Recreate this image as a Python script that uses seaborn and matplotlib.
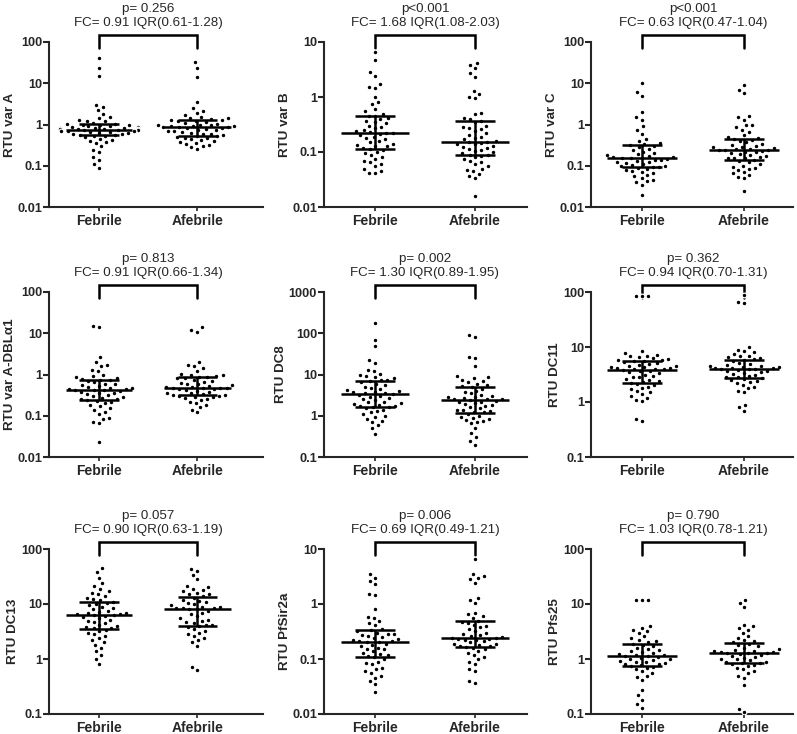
import numpy as np
import pandas as pd
import seaborn as sns
import matplotlib
matplotlib.use('Agg')
from matplotlib import pyplot as plt
from matplotlib import transforms

groups = ['Febrile', 'Afebrile']

# values (RTU, log scale)
feb_varA = [42, 23, 15, 3.0, 2.7, 2.2, 1.8, 1.5, 1.4, 1.3, 1.25, 1.2, 1.1, 1.05, 1.05, 1.0, 1.0, 0.95,
            0.92, 0.9, 0.88, 0.85, 0.82, 0.8, 0.8, 0.78, 0.78, 0.77, 0.76, 0.75, 0.74, 0.72, 0.7, 0.7,
            0.68, 0.66, 0.65, 0.63, 0.62, 0.6, 0.58, 0.56, 0.55, 0.54, 0.52, 0.5, 0.45, 0.42, 0.4,
            0.38, 0.35, 0.3, 0.24, 0.22, 0.16, 0.14, 0.11, 0.09]
afe_varA = [33, 24, 14, 3.5, 2.5, 2.1, 1.9, 1.7, 1.5, 1.45, 1.4, 1.35, 1.3, 1.28, 1.25, 1.2, 1.15, 1.1,
            1.05, 1.0, 0.98, 0.95, 0.92, 0.9, 0.9, 0.88, 0.87, 0.85, 0.82, 0.8, 0.78, 0.75, 0.72, 0.7,
            0.68, 0.65, 0.62, 0.6, 0.58, 0.55, 0.53, 0.52, 0.5, 0.48, 0.46, 0.44, 0.42, 0.4, 0.38,
            0.36, 0.34, 0.32, 0.3, 0.28, 0.26]

feb_varB = [6.5, 4.8, 2.8, 2.4, 1.7, 1.5, 1.45, 1.0, 0.8, 0.75, 0.6, 0.55, 0.5, 0.46, 0.45, 0.42, 0.4,
            0.37, 0.35, 0.33, 0.3, 0.28, 0.27, 0.25, 0.24, 0.23, 0.22, 0.22, 0.21, 0.2, 0.19, 0.18,
            0.17, 0.16, 0.15, 0.14, 0.135, 0.13, 0.13, 0.12, 0.115, 0.11, 0.1, 0.095, 0.09, 0.08,
            0.075, 0.07, 0.065, 0.06, 0.055, 0.05, 0.045, 0.042, 0.042]
afe_varB = [4.2, 3.8, 3.3, 2.7, 2.3, 1.3, 1.15, 1.0, 0.95, 0.52, 0.5, 0.42, 0.4, 0.37, 0.35, 0.3, 0.28,
            0.27, 0.26, 0.24, 0.22, 0.2, 0.19, 0.18, 0.17, 0.16, 0.155, 0.15, 0.145, 0.14, 0.14, 0.13,
            0.125, 0.12, 0.115, 0.11, 0.105, 0.1, 0.095, 0.09, 0.09, 0.085, 0.08, 0.075, 0.07, 0.065,
            0.06, 0.055, 0.05, 0.048, 0.045, 0.04, 0.037, 0.033, 0.016]

feb_varC = [10, 6.2, 5.0, 2.0, 1.5, 1.3, 0.9, 0.75, 0.6, 0.45, 0.4, 0.35, 0.33, 0.32, 0.3, 0.28, 0.26,
            0.24, 0.22, 0.2, 0.19, 0.18, 0.17, 0.165, 0.16, 0.155, 0.15, 0.15, 0.145, 0.14, 0.135, 0.13,
            0.125, 0.12, 0.115, 0.11, 0.105, 0.1, 0.097, 0.095, 0.093, 0.09, 0.085, 0.08, 0.075, 0.07,
            0.065, 0.06, 0.055, 0.05, 0.045, 0.042, 0.04, 0.035, 0.02]
afe_varC = [9.0, 7.0, 5.8, 1.6, 1.5, 1.3, 1.0, 0.95, 0.85, 0.75, 0.65, 0.55, 0.5, 0.46, 0.45, 0.42, 0.4,
            0.37, 0.34, 0.32, 0.3, 0.29, 0.28, 0.27, 0.26, 0.25, 0.24, 0.24, 0.235, 0.23, 0.22, 0.21,
            0.2, 0.19, 0.18, 0.17, 0.16, 0.155, 0.15, 0.15, 0.14, 0.13, 0.12, 0.11, 0.1, 0.095, 0.09,
            0.085, 0.08, 0.07, 0.065, 0.06, 0.052, 0.05, 0.025]

feb_dbl = [15, 14, 2.6, 2.0, 1.7, 1.6, 1.3, 1.2, 1.0, 0.9, 0.85, 0.8, 0.78, 0.75, 0.72, 0.7, 0.65, 0.6,
           0.58, 0.55, 0.52, 0.5, 0.48, 0.46, 0.45, 0.44, 0.43, 0.42, 0.41, 0.4, 0.38, 0.36, 0.35, 0.34,
           0.32, 0.3, 0.28, 0.27, 0.26, 0.25, 0.24, 0.23, 0.21, 0.2, 0.18, 0.17, 0.15, 0.14, 0.12, 0.11,
           0.09, 0.085, 0.07, 0.065, 0.023]
afe_dbl = [14, 12, 11, 2.0, 1.7, 1.6, 1.4, 1.2, 1.05, 1.0, 0.95, 0.9, 0.87, 0.85, 0.82, 0.8, 0.75, 0.7,
           0.65, 0.62, 0.6, 0.58, 0.55, 0.53, 0.5, 0.49, 0.48, 0.47, 0.47, 0.46, 0.45, 0.44, 0.42, 0.4,
           0.38, 0.36, 0.35, 0.33, 0.32, 0.31, 0.3, 0.3, 0.29, 0.28, 0.27, 0.26, 0.24, 0.22, 0.2, 0.18,
           0.16, 0.14, 0.12]

feb_dc8 = [180, 70, 50, 22, 19, 13, 12, 10.5, 9.5, 9, 8.5, 8, 7.5, 7.2, 7, 6.5, 6, 5.5, 5, 4.8, 4.5,
           4.2, 4, 3.8, 3.7, 3.6, 3.5, 3.4, 3.2, 3, 2.9, 2.7, 2.5, 2.4, 2.2, 2.1, 2, 1.9, 1.8, 1.75,
           1.7, 1.65, 1.6, 1.5, 1.4, 1.3, 1.2, 1.1, 1.0, 0.95, 0.85, 0.75, 0.7, 0.6, 0.5, 0.37]
afe_dc8 = [90, 80, 27, 25, 16, 9, 8.5, 8, 7.5, 7, 6.5, 6, 5.5, 5.2, 5, 4.5, 4, 3.8, 3.5, 3.2, 3, 2.9,
           2.8, 2.7, 2.6, 2.5, 2.5, 2.4, 2.3, 2.2, 2.1, 2, 1.9, 1.8, 1.7, 1.6, 1.5, 1.4, 1.35, 1.3,
           1.25, 1.2, 1.1, 1.0, 0.95, 0.9, 0.85, 0.8, 0.75, 0.7, 0.65, 0.5, 0.38, 0.3, 0.25, 0.2]

feb_dc11 = [86, 85, 84, 8.5, 7.8, 7.3, 7, 6.8, 6.5, 6.2, 6, 5.9, 5.8, 5.6, 5.5, 5.3, 5.1, 5, 4.8, 4.6,
            4.5, 4.4, 4.3, 4.2, 4.1, 4.0, 4.0, 3.9, 3.8, 3.7, 3.6, 3.5, 3.3, 3.1, 3.0, 2.9, 2.8, 2.6,
            2.5, 2.4, 2.3, 2.2, 2.1, 2.0, 1.9, 1.8, 1.7, 1.6, 1.5, 1.4, 1.3, 1.2, 1.1, 1.05, 0.5, 0.45]
afe_dc11 = [90, 66, 62, 10, 9, 8.5, 8, 7.5, 7, 6.8, 6.5, 6.3, 6, 5.8, 5.5, 5.2, 5, 4.8, 4.6, 4.5, 4.4,
            4.3, 4.2, 4.1, 4.1, 4.0, 4.0, 3.9, 3.8, 3.7, 3.6, 3.5, 3.4, 3.2, 3.1, 3.0, 2.9, 2.8, 2.7,
            2.6, 2.5, 2.4, 2.3, 2.2, 2.0, 1.9, 1.8, 1.6, 1.5, 0.9, 0.8, 0.68]

feb_dc13 = [45, 38, 30, 24, 21, 19, 17, 16, 15, 14, 13, 12.5, 12, 11, 10.5, 10, 9.5, 9, 8.5, 8, 7.5,
            7.2, 7, 6.8, 6.6, 6.5, 6.4, 6.2, 6, 5.8, 5.5, 5.2, 5, 4.8, 4.5, 4.2, 4, 3.8, 3.7, 3.6,
            3.4, 3.2, 3, 2.8, 2.6, 2.4, 2.2, 2.0, 1.8, 1.6, 1.4, 1.2, 1.0, 0.8]
afe_dc13 = [44, 40, 33, 28, 21, 20, 19, 18, 17, 16, 15.5, 15, 14, 13, 12, 11.5, 11, 10.5, 10, 9.5, 9,
            8.8, 8.6, 8.5, 8.4, 8.2, 8, 7.5, 7, 6.5, 6, 5.5, 5.2, 5, 4.8, 4.5, 4.2, 4.1, 4.0, 3.8,
            3.5, 3.2, 3.0, 2.8, 2.6, 2.4, 2.2, 2.0, 1.7, 0.72, 0.62]

feb_sir2a = [3.5, 3.0, 2.6, 2.3, 1.5, 1.45, 0.8, 0.58, 0.55, 0.5, 0.45, 0.42, 0.35, 0.33, 0.32, 0.3,
             0.29, 0.28, 0.27, 0.26, 0.25, 0.24, 0.23, 0.22, 0.215, 0.21, 0.205, 0.2, 0.19, 0.18, 0.17,
             0.16, 0.155, 0.15, 0.14, 0.13, 0.125, 0.12, 0.115, 0.11, 0.1, 0.09, 0.085, 0.08, 0.07,
             0.065, 0.06, 0.055, 0.05, 0.045, 0.04, 0.035, 0.025]
afe_sir2a = [6.5, 3.5, 3.2, 3.0, 2.8, 2.4, 1.3, 1.2, 1.05, 0.7, 0.65, 0.6, 0.55, 0.5, 0.48, 0.45, 0.42,
             0.4, 0.38, 0.35, 0.32, 0.3, 0.28, 0.27, 0.26, 0.25, 0.245, 0.24, 0.235, 0.23, 0.225,
             0.22, 0.21, 0.2, 0.19, 0.185, 0.18, 0.175, 0.17, 0.165, 0.16, 0.15, 0.14, 0.13, 0.12,
             0.11, 0.1, 0.09, 0.08, 0.065, 0.06, 0.04, 0.037]

feb_pfs25 = [12, 12, 12, 4.0, 3.7, 3.4, 3.2, 3.0, 2.6, 2.4, 2.2, 2.1, 2.0, 1.9, 1.8, 1.7, 1.6, 1.5,
             1.45, 1.4, 1.35, 1.3, 1.25, 1.2, 1.18, 1.15, 1.12, 1.1, 1.05, 1.0, 0.98, 0.95, 0.92, 0.9,
             0.88, 0.85, 0.82, 0.8, 0.78, 0.75, 0.72, 0.7, 0.65, 0.6, 0.55, 0.5, 0.48, 0.42, 0.27,
             0.22, 0.18, 0.15, 0.13]
afe_pfs25 = [12, 10.5, 8.8, 4.2, 4.0, 3.6, 3.4, 3.0, 2.6, 2.4, 2.2, 2.1, 2.0, 1.9, 1.8, 1.7, 1.6, 1.5,
             1.45, 1.4, 1.38, 1.35, 1.32, 1.3, 1.3, 1.28, 1.25, 1.2, 1.15, 1.1, 1.05, 1.0, 0.98, 0.95,
             0.9, 0.88, 0.85, 0.83, 0.8, 0.78, 0.75, 0.7, 0.65, 0.6, 0.55, 0.5, 0.45, 0.33, 0.125, 0.11]

ylabels = ['RTU var A', 'RTU var B', 'RTU var C',
           'RTU var A-DBL\u03b11', 'RTU DC8', 'RTU DC11',
           'RTU DC13', 'RTU PfSir2a', 'RTU Pfs25']
p_texts = ['p= 0.256', 'p<0.001', 'p<0.001',
           'p= 0.813', 'p= 0.002', 'p= 0.362',
           'p= 0.057', 'p= 0.006', 'p= 0.790']
fc_texts = ['FC= 0.91 IQR(0.61-1.28)', 'FC= 1.68 IQR(1.08-2.03)', 'FC= 0.63 IQR(0.47-1.04)',
            'FC= 0.91 IQR(0.66-1.34)', 'FC= 1.30 IQR(0.89-1.95)', 'FC= 0.94 IQR(0.70-1.31)',
            'FC= 0.90 IQR(0.63-1.19)', 'FC= 0.69 IQR(0.49-1.21)', 'FC= 1.03 IQR(0.78-1.21)']
ylims = [(0.01, 100), (0.01, 10), (0.01, 100),
         (0.01, 100), (0.1, 1000), (0.1, 100),
         (0.1, 100), (0.01, 10), (0.1, 100)]
febrile = [feb_varA, feb_varB, feb_varC, feb_dbl, feb_dc8, feb_dc11, feb_dc13, feb_sir2a, feb_pfs25]
afebrile = [afe_varA, afe_varB, afe_varC, afe_dbl, afe_dc8, afe_dc11, afe_dc13, afe_sir2a, afe_pfs25]

sns.set_style('ticks')
plt.rcParams['font.family'] = ['Liberation Sans', 'DejaVu Sans']

fig = plt.figure(figsize=(7.97, 7.34), dpi=100)

W, H = 797., 734.
col_x = [(49, 263), (324, 527), (591, 793)]
col_xlim = [(-0.51, 1.67), (-0.51, 1.52), (-0.5, 1.48)]
row_y = [(42, 207), (292, 457), (549, 714)]

for k in range(9):
  r, c = divmod(k, 3)
  x0, x1 = col_x[c]
  y0, y1 = row_y[r]
  ax = fig.add_axes([x0 / W, 1 - y1 / H, (x1 - x0) / W, (y1 - y0) / H])

  df = pd.DataFrame({
      'group': ['Febrile'] * len(febrile[k]) + ['Afebrile'] * len(afebrile[k]),
      'value': list(febrile[k]) + list(afebrile[k]),
  })
  # white edge keeps GraphPad-like gaps between the dots
  sns.swarmplot(data=df, x='group', y='value', order=groups, ax=ax, color='black',
                size=3.4, linewidth=0.9, edgecolor='white', log_scale=True, warn_thresh=1)

  # median with interquartile range
  for i, vals in enumerate((febrile[k], afebrile[k])):
    q1, med, q3 = np.percentile(vals, [25, 50, 75])
    ax.hlines(med, i - 0.34, i + 0.34, color='black', lw=1.8, zorder=5)
    ax.vlines(i, q1, q3, color='black', lw=1.8, zorder=5)
    ax.hlines([q1, q3], i - 0.2, i + 0.2, color='black', lw=1.8, zorder=5)

  lo, hi = ylims[k]
  ax.set_ylim(lo, hi)
  ax.set_xlim(*col_xlim[c])
  decades = [lo * 10 ** j for j in range(int(round(np.log10(hi / lo))) + 1)]
  ax.yaxis.set_major_locator(matplotlib.ticker.FixedLocator(decades))
  ax.yaxis.set_minor_locator(matplotlib.ticker.NullLocator())
  ax.set_yticklabels(['{:g}'.format(d) for d in decades], fontweight='bold', fontsize=9.2)
  ax.set_xticks([0, 1])
  ax.set_xticklabels(groups, fontweight='bold', fontsize=10)
  ax.set_xlabel('')
  ax.set_ylabel(ylabels[k], fontweight='bold', fontsize=9.6, labelpad=1)
  ax.tick_params(axis='y', length=4, width=1.5, pad=1)
  ax.tick_params(axis='x', length=3, width=1.2, pad=2)
  for s in ('left', 'bottom'):
    ax.spines[s].set_linewidth(1.5)
  sns.despine(ax=ax)

  # significance bracket and annotation
  trans = transforms.blended_transform_factory(ax.transData, ax.transAxes)
  ax.plot([0, 0, 1, 1], [0.966, 1.042, 1.042, 0.966], color='black', lw=1.8,
          transform=trans, clip_on=False, solid_joinstyle='miter')
  ax.text(0.5, 1.2, p_texts[k], transform=trans, ha='center', va='center', fontsize=9.6)
  ax.text(0.5, 1.118, fc_texts[k], transform=trans, ha='center', va='center', fontsize=9.6)

fig.savefig('out.png', dpi=100, facecolor='white')
